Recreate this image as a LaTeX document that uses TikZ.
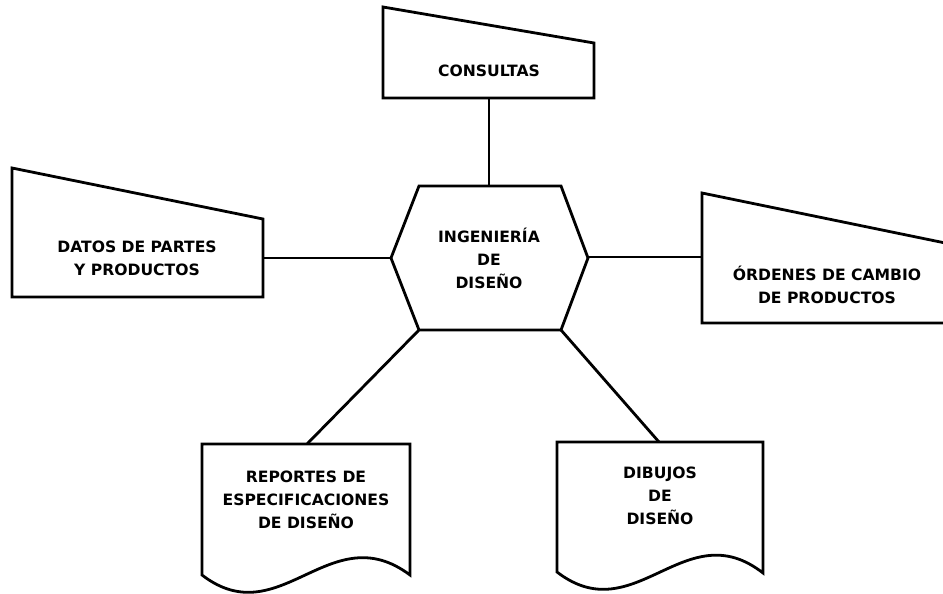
\documentclass[tikz,border=0pt]{standalone}
\usepackage{fontspec}
\setmainfont{DejaVu Sans}
\begin{document}
\begin{tikzpicture}[x=1pt,y=-1pt,line width=2.8pt,
  shapebox/.style={draw=black,fill=white,line join=miter},
  wire/.style={draw=black,line width=2.8pt},
  lbl/.style={font=\bfseries\fontsize{15.6}{23}\selectfont,align=center,inner sep=0pt}]
\useasboundingbox (0,0) rectangle (943,594);
\clip (0,0) rectangle (943,594);

% central process: hexagon
\draw[shapebox] (419,186) -- (561,186) -- (588,258) -- (561,330) -- (419,330) -- (391,258) -- cycle;
\node[lbl] (ing) at (489,258) {INGENIERÍA\\DE\\DISEÑO};
\coordinate (ingT) at (489,186);
\coordinate (ingL) at (391,258);
\coordinate (ingR) at (588,257);
\coordinate (ingBL) at (419,330);
\coordinate (ingBR) at (561,330);

% manual input: consultas
\draw[shapebox] (383,7) -- (594,43) -- (594,98) -- (383,98) -- cycle;
\node[lbl] (cons) at (489,71) {CONSULTAS};
\coordinate (consB) at (489,98);

% manual input: datos de partes
\draw[shapebox] (12,168) -- (263,219) -- (263,297) -- (12,297) -- cycle;
\node[lbl] (datos) at (137,258.5) {DATOS DE PARTES\\Y PRODUCTOS};
\coordinate (datosR) at (263,258);

% manual input: ordenes de cambio
\draw[shapebox] (702,193) -- (955,245) -- (955,323) -- (702,323) -- cycle;
\node[lbl] (ord) at (827,284.5) {ÓRDENES DE CAMBIO\\DE PRODUCTOS};
\coordinate (ordL) at (702,257);

% documents
\draw[shapebox] (202,444) -- (410,444) -- (410,575)
  .. controls (330,515) and (280,635) .. (202,575) -- cycle;
\node[lbl] (rep) at (306,500) {REPORTES DE\\ESPECIFICACIONES\\DE DISEÑO};
\coordinate (repT) at (307,444);

\draw[shapebox] (557,442) -- (763,442) -- (763,573)
  .. controls (685,512) and (635,632) .. (557,572) -- cycle;
\node[lbl] (dib) at (660,496) {DIBUJOS\\DE\\DISEÑO};
\coordinate (dibT) at (659,442);

% connectors
\draw[wire] (consB) -- (ingT);
\draw[wire] (datosR) -- (ingL);
\draw[wire] (ingR) -- (ordL);
\draw[wire] (ingBL) -- (repT);
\draw[wire] (ingBR) -- (dibT);
\end{tikzpicture}
\end{document}
